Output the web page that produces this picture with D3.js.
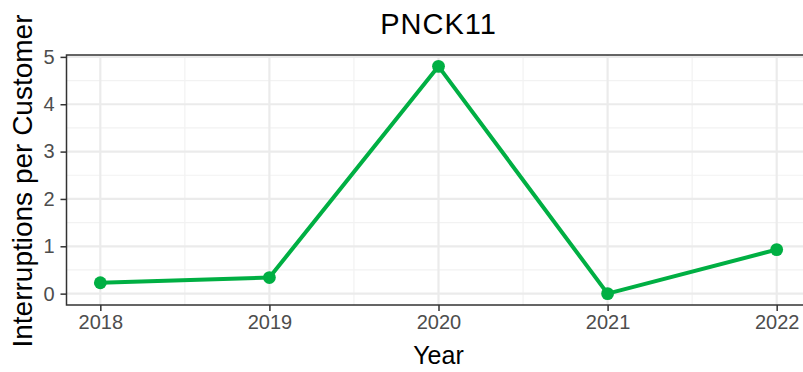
<!DOCTYPE html>
<html><head><meta charset="utf-8">
<script src="https://cdn.jsdelivr.net/npm/d3@7"></script>
<style>body{margin:0;background:#fff;} svg{display:block;}</style>
</head><body>
<svg id="c" width="803" height="372"></svg>
<script>
const years = [2018, 2019, 2020, 2021, 2022];
const values = [0.23, 0.34, 4.80, 0.0, 0.93];
const yTicks = [0, 1, 2, 3, 4, 5];
const xTicks = [2018, 2019, 2020, 2021, 2022];
const title = "PNCK11";
const xTitle = "Year";
const yTitle = "Interruptions per Customer";

const FONT = "Liberation Sans, Arial, sans-serif";
const svg = d3.select("#c");
const W = 803, H = 372;
const m = {left: 66.5, right: -7.5, top: 55, bottom: 67};
const pw = W - m.left - m.right, ph = H - m.top - m.bottom;

const x = d3.scaleLinear().domain([2017.8, 2022.2]).range([m.left, m.left + pw]);
const yMin = d3.min(values), yMax = d3.max(values), d = yMax - yMin;
const y = d3.scaleLinear().domain([yMin - 0.05*d, yMax + 0.05*d]).range([m.top + ph, m.top]);

const g = svg.append("g");
// minor grid
const xMinor = d3.range(2018.5, 2022.5, 1);
const yMinor = [0.5, 1.5, 2.5, 3.5, 4.5];
g.selectAll(".xm").data(xMinor).join("line")
  .attr("x1", d=>x(d)).attr("x2", d=>x(d)).attr("y1", m.top).attr("y2", m.top+ph)
  .attr("stroke", "#f2f2f2").attr("stroke-width", 1.2);
g.selectAll(".ym").data(yMinor).join("line")
  .attr("x1", m.left).attr("x2", m.left+pw).attr("y1", d=>y(d)).attr("y2", d=>y(d))
  .attr("stroke", "#f2f2f2").attr("stroke-width", 1.2);
// major grid
g.selectAll(".xg").data(xTicks).join("line")
  .attr("x1", d=>x(d)).attr("x2", d=>x(d)).attr("y1", m.top).attr("y2", m.top+ph)
  .attr("stroke", "#ebebeb").attr("stroke-width", 2.2);
g.selectAll(".yg").data(yTicks).join("line")
  .attr("x1", m.left).attr("x2", m.left+pw).attr("y1", d=>y(d)).attr("y2", d=>y(d))
  .attr("stroke", "#ebebeb").attr("stroke-width", 2.2);

// line
const line = d3.line().x((d,i)=>x(years[i])).y(d=>y(d));
g.append("path").datum(values).attr("d", line).attr("fill", "none")
  .attr("stroke", "#00AF43").attr("stroke-width", 4).attr("stroke-linejoin", "round");
g.selectAll(".pt").data(values).join("circle")
  .attr("cx", (d,i)=>x(years[i])).attr("cy", d=>y(d)).attr("r", 6.4).attr("fill", "#00AF43");

// border
g.append("rect").attr("x", m.left).attr("y", m.top).attr("width", pw).attr("height", ph)
  .attr("fill", "none").attr("stroke", "#333333").attr("stroke-width", 1.5);

// axes
const xa = svg.append("g").attr("transform", `translate(0,${m.top+ph})`)
  .call(d3.axisBottom(x).tickValues(xTicks).tickFormat(d3.format("d")).tickSize(6).tickPadding(4));
const ya = svg.append("g").attr("transform", `translate(${m.left},0)`)
  .call(d3.axisLeft(y).tickValues(yTicks).tickFormat(d3.format("d")).tickSize(6).tickPadding(6));
[xa, ya].forEach(a => {
  a.select(".domain").remove();
  a.selectAll(".tick line").attr("stroke", "#333333").attr("stroke-width", 1.5);
  a.selectAll(".tick text").attr("fill", "#4d4d4d").style("font-family", FONT).style("font-size", "20px");
});

svg.append("text").attr("x", m.left + pw/2).attr("y", 34).attr("text-anchor", "middle")
  .style("font-family", FONT).style("font-size", "29px").style("letter-spacing", "1px").attr("fill", "#000").text(title);
svg.append("text").attr("x", m.left + pw/2).attr("y", 364).attr("text-anchor", "middle")
  .style("font-family", FONT).style("font-size", "25px").attr("fill", "#000").text(xTitle);
svg.append("text").attr("transform", `translate(32,${m.top+ph/2 + 1}) rotate(-90)`).attr("text-anchor", "middle")
  .style("font-family", FONT).style("font-size", "28px").attr("fill", "#000").text(yTitle);
</script>
</body></html>
